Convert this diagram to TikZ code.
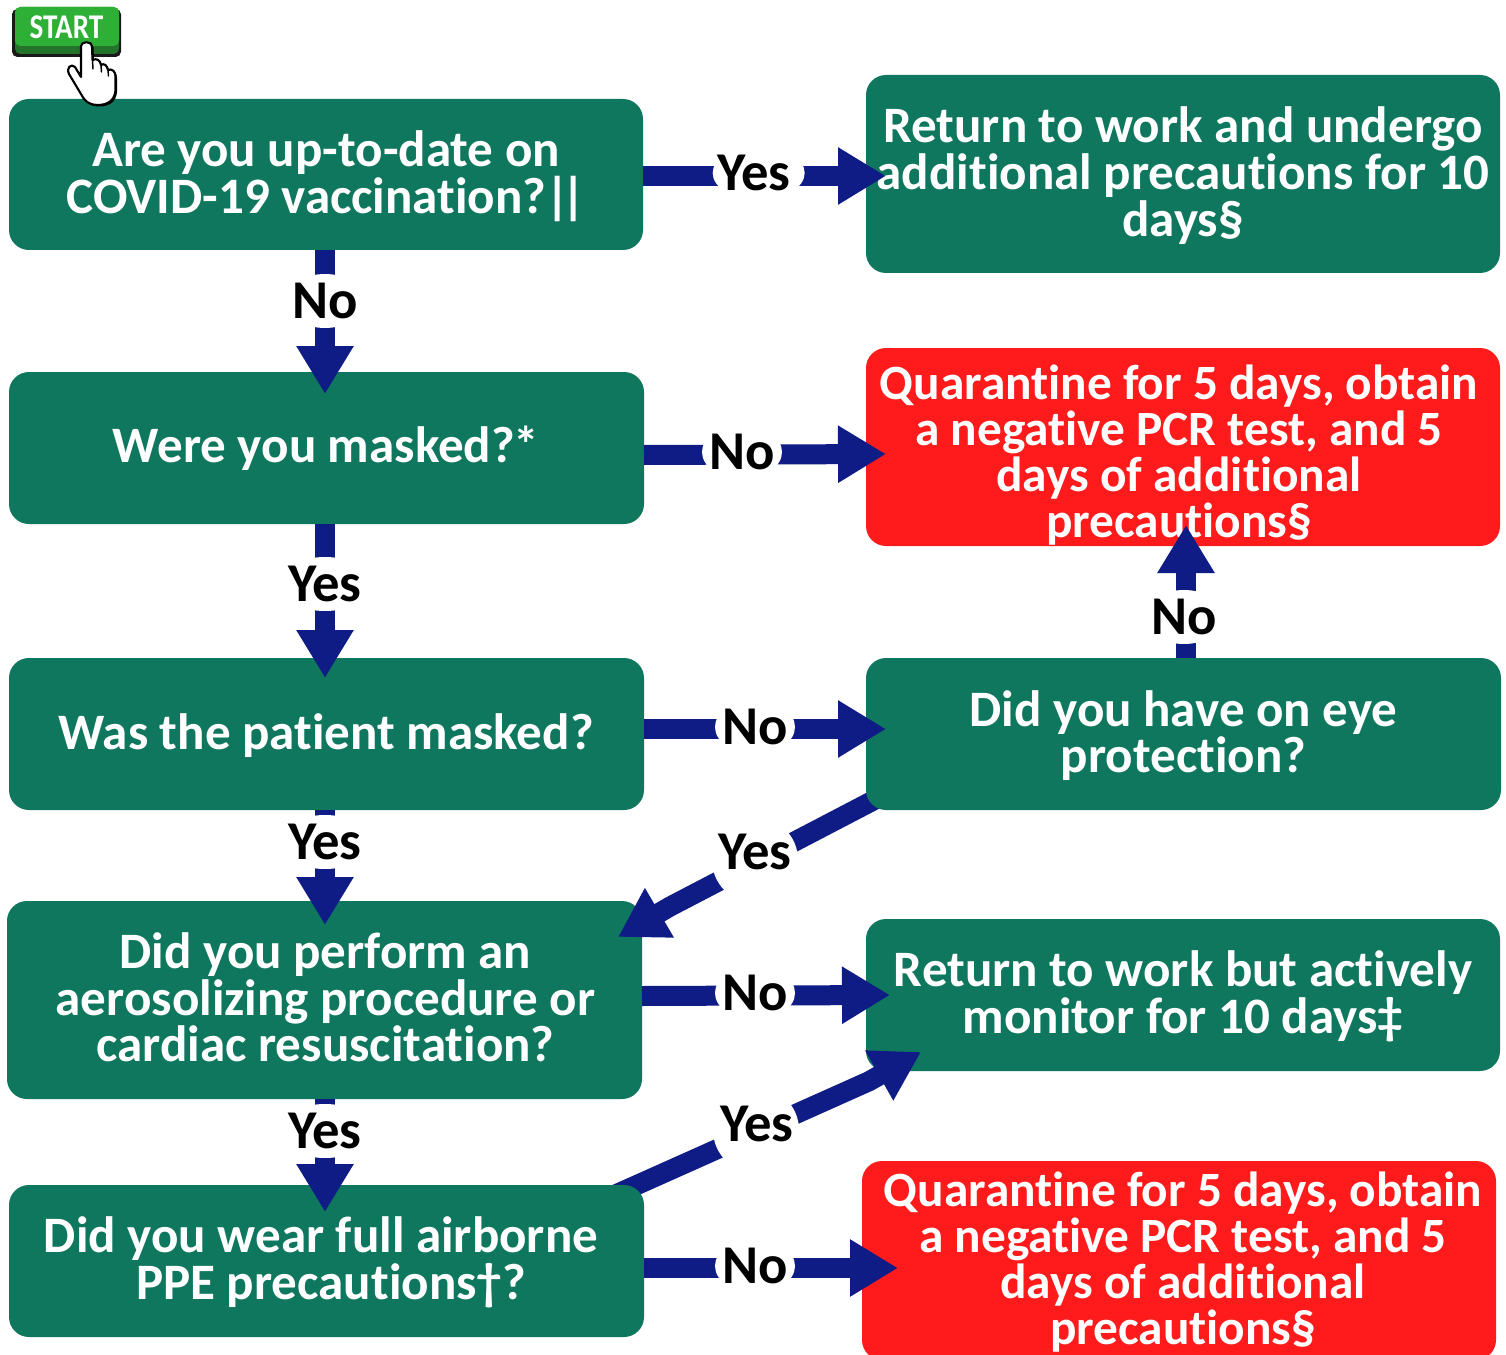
\documentclass[tikz,border=0pt]{standalone}
\usepackage{fontspec}
\setmainfont[Ligatures=CommonOff]{Carlito}
\usetikzlibrary{arrows.meta}
\definecolor{boxgreen}{HTML}{0E775D}
\definecolor{boxred}{HTML}{FF1B1B}
\definecolor{arrowblue}{HTML}{0F1C85}
\definecolor{startgreen}{HTML}{2DB035}
\definecolor{startdark}{HTML}{23742A}
\tikzset{
 x=0.75pt,y=-0.75pt,
 grn/.style={fill=boxgreen,rounded corners=15pt},
 rd/.style={fill=boxred,rounded corners=15pt},
 conn/.style={draw=arrowblue,line width=15pt,line join=round,-{Triangle[length=36pt,width=40.5pt]}},
 lab/.style={font=\fontsize{41}{41}\selectfont\bfseries,text=black,inner sep=0pt},
 txt/.style={align=center,text=white,font=\fontsize{38.3}{35}\selectfont\bfseries,inner sep=0pt},
 txtr/.style={txt,font=\fontsize{37}{34.6}\selectfont\bfseries},
}
\newcommand{\yeslab}[3]{\fill[white] ([xshift=3.5pt]#2) ellipse (46 and 27);\node[lab] (#1) at (#2) {#3};}
\newcommand{\nolab}[3]{\fill[white] (#2) ellipse (40 and 27);\node[lab] (#1) at (#2) {#3};}
\begin{document}
\begin{tikzpicture}
\useasboundingbox (0,0) rectangle (1506,1355);
\fill[white] (0,0) rectangle (1506,1355);
\path[grn] (9,99) rectangle (643,250);
\path[grn] (866,75) rectangle (1500,273);
\path[grn] (9,372) rectangle (644,524);
\path[rd] (866,348) rectangle (1500,546);
\path[grn] (9,658) rectangle (644,810);
\path[grn] (7,901) rectangle (642,1099);
\path[grn] (866,919) rectangle (1500,1071);
\path[rd] (862,1161) rectangle (1496,1360);
\coordinate (a7s) at (880,797); \coordinate (a7m) at (669.8,906.7); \coordinate (a7e) at (618,937);
\coordinate (a11s) at (610,1197); \coordinate (a11m) at (868.7,1081.4); \coordinate (a11e) at (921,1052);
\draw[conn] (a7s) -- (a7m) -- (a7e);
\draw[conn] (a11s) -- (a11m) -- (a11e);
\path[grn] (866,658) rectangle (1501,810);
\path[grn] (9,1185) rectangle (644,1337);
% texts
\node[txt] (q1) at (326,176.5) {Are you up-to-date on\\COVID-19 vaccination?\kern-1pt|\kern-6pt|};
\node[txt] (r1) at (1183,175.5) {Return to work and undergo\\additional precautions for 10\\days§};
\node[txt] (q2) at (326,448.5) {Were you masked?\kern-1pt*};
\node[txtr] (r2) at (1179,455) {Quarantine for 5 days, obtain\\a negative PCR test, and 5\\days of additional\\precautions§};
\node[txt] (q3) at (326,736) {Was the patient masked?};
\node[txt] (r3) at (1183.5,735.5) {Did you have on eye\\protection?};
\node[txt] (q4) at (325.5,997.5) {Did you perform an\\aerosolizing procedure or\\cardiac resuscitation?};
\node[txt] (r4) at (1183,996.5) {Return to work but actively\\monitor for 10 days‡};
\node[txt] (q5) at (326,1262.5) {Did you wear full airborne\hspace*{7.5pt}\mbox{}\\\hspace*{7.5pt}PPE precautions†?};
\node[txtr] (r5) at (1183,1262) {Quarantine for 5 days, obtain\\a negative PCR test, and 5\\days of additional\\precautions§};
% straight connectors
\coordinate (a1s) at (643,176); \coordinate (a1e) at (886,176);
\coordinate (a2s) at (325,250); \coordinate (a2e) at (325,394);
\coordinate (a3s) at (644,455); \coordinate (a3e) at (886,454);
\coordinate (a4s) at (325,524); \coordinate (a4e) at (325,678);
\coordinate (a5s) at (644,729); \coordinate (a5e) at (886,729);
\coordinate (a6s) at (1186,658); \coordinate (a6e) at (1186,525);
\coordinate (a8s) at (325,810); \coordinate (a8e) at (325,925);
\coordinate (a9s) at (642,996); \coordinate (a9e) at (890,995);
\coordinate (a10s) at (325,1099); \coordinate (a10e) at (325,1212);
\coordinate (a12s) at (644,1268); \coordinate (a12e) at (898,1268);
\foreach \n in {1,2,3,4,5,6,8,9,10,12}{\draw[conn] (a\n s) -- (a\n e);}
% labels
\yeslab{l1}{754,173}{Yes}
\nolab{l2}{325,301}{No}
\nolab{l3}{742,452}{No}
\fill[white] (325,584) ellipse (46 and 27);\node[lab] (l4) at (325,584) {Yes};
\nolab{l5}{755,727}{No}
\nolab{l6}{1184,617}{No}
\fill[white] (755,860) circle (43);\node[lab] (l7) at (755,852) {Yes};
\fill[white] (325,842) ellipse (46 and 27);\node[lab] (l8) at (325,842) {Yes};
\nolab{l9}{755,993}{No}
\fill[white] (325,1131) ellipse (46 and 27);\node[lab] (l10) at (325,1131) {Yes};
\fill[white] (756,1130) circle (43);\node[lab] (l11) at (757,1124) {Yes};
\nolab{l12}{755,1266}{No}
% start button
\fill[black!90,rounded corners=4pt] (12,9) rectangle (121,57);
\fill[startdark,rounded corners=4pt] (15,7) rectangle (119,54);
\fill[startgreen,rounded corners=4pt] (15,7) rectangle (119,46);
\node[inner sep=0pt,text=white,font=\fontsize{26}{26}\selectfont\bfseries,xscale=0.84] (st) at (66.5,27) {START};
% hand
\def\handpath{(81,46) .. controls (81,41) and (92,41) .. (92,46) -- (92.5,60)
 .. controls (97,58) and (100,60) .. (101,65) .. controls (104,63) and (107,65) .. (108,70)
 .. controls (112,68) and (116,72) .. (115.5,77) -- (115.5,90)
 .. controls (115,100) and (108,105) .. (98,105) .. controls (88,105) and (84,100) .. (81,94)
 -- (69,74) .. controls (66,68) and (71,63) .. (75,67) -- (81,77) -- cycle}
\fill[black,shift={(1.5,1.5)}] \handpath;
\filldraw[fill=white,draw=black,line width=1.6pt,line join=round] \handpath;
\draw[black,line width=1.1pt,line cap=round] (92.5,60) -- (93,69) (101,65) -- (101.5,72) (108,70) -- (108.5,76);
\end{tikzpicture}
\end{document}
